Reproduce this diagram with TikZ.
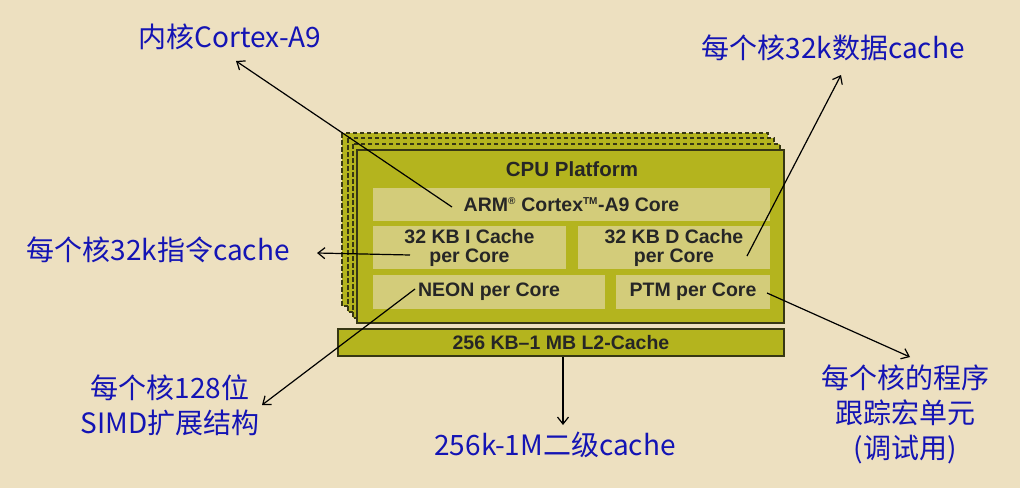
\documentclass[tikz,border=0pt]{standalone}
\usepackage{fontspec}
\usetikzlibrary{arrows.meta}
\newfontfamily\cjk{Noto Sans CJK SC}
\newfontfamily\arialf{Liberation Sans}
\definecolor{bgc}{RGB}{237,224,192}
\definecolor{olive}{RGB}{180,180,30}
\definecolor{lightolive}{RGB}{211,204,122}
\definecolor{edgec}{RGB}{55,55,20}
\definecolor{lblue}{RGB}{20,20,180}
\tikzset{
  card/.style={fill=olive, draw=edgec, line width=1.4pt, dash pattern=on 4.5pt off 2.5pt},
  mainbox/.style={fill=olive, draw=edgec, line width=1.6pt, inner sep=0pt, anchor=center},
  cell/.style={fill=lightolive, inner sep=0pt, anchor=center, align=center,
    font=\arialf\bfseries\fontsize{19.5}{19}\selectfont, text=black!85},
  lbl/.style={text=lblue, align=center, font=\cjk\fontsize{28}{35}\selectfont, inner sep=0pt},
  conn/.style={draw=black, line width=1.2pt, -{Straight Barb[length=7pt,width=11pt,line width=1.2pt]}}
}
\begin{document}
\begin{tikzpicture}[x=1pt,y=-1pt]
\path[use as bounding box, fill=bgc] (0,0) rectangle (1020,488);
% stacked cards behind
\path[card] (342,133) rectangle (768,306);
\path[card] (348,138) rectangle (774,312);
\path[card] (353,144) rectangle (780,318);
% main platform
\node[mainbox, minimum width=427pt, minimum height=173pt] (cpu) at (570.5,236.5) {};
\node[font=\arialf\bfseries\fontsize{20.5}{22}\selectfont, text=black!85] (title) at (572,169) {CPU Platform};
\node[cell, minimum width=397pt, minimum height=33pt] (arm) at (571.5,204.5)
  {ARM\textsuperscript{\fontsize{10}{10}\selectfont\textregistered} Cortex\textsuperscript{\fontsize{10}{10}\selectfont TM}-A9 Core};
\node[cell, minimum width=193pt, minimum height=43pt] (icache) at (469.5,247.5) {32 KB I Cache\\per Core};
\node[cell, minimum width=192pt, minimum height=43pt] (dcache) at (674,247.5) {32 KB D Cache\\per Core};
\node[cell, minimum width=232pt, minimum height=34pt] (neon) at (489,292) {NEON per Core};
\node[cell, minimum width=154pt, minimum height=34pt] (ptm) at (693,292) {PTM per Core};
\node[mainbox, minimum width=446pt, minimum height=27pt, font=\arialf\bfseries\fontsize{19.5}{20}\selectfont, text=black!85] (l2) at (561,342.5) {256 KB–1 MB L2-Cache};
% labels
\node[lbl] (lcore) at (230,37) {内核Cortex-A9};
\node[lbl] (ldc) at (833,48) {每个核32k数据cache};
\node[lbl] (lic) at (158,250) {每个核32k指令cache};
\node[lbl] (lneon) at (170,405) {每个核128位\\SIMD扩展结构};
\node[lbl] (lptm) at (905,414) {每个核的程序\\跟踪宏单元\\(调试用)};
\node[lbl] (ll2) at (555,445) {256k-1M二级cache};
% connector end points
\coordinate (sArm) at (452,207);
\coordinate (tArm) at (236,61);
\coordinate (sD) at (747,256);
\coordinate (tD) at (841,75);
\coordinate (sI) at (410,255);
\coordinate (tI) at (317,253);
\coordinate (sN) at (415,289);
\coordinate (tN) at (262,405);
\coordinate (sP) at (767,293);
\coordinate (tP) at (910,357);
\coordinate (sL) at (563,357);
\coordinate (tL) at (563,425);
\draw[conn] (sArm) -- (tArm);
\draw[conn] (sD) -- (tD);
\draw[conn] (sI) -- (tI);
\draw[conn] (sN) -- (tN);
\draw[conn] (sP) -- (tP);
\draw[conn] (sL) -- (tL);
\end{tikzpicture}
\end{document}
